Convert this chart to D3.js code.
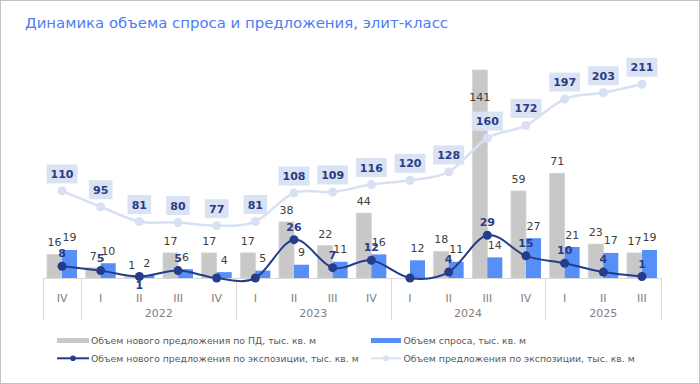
<!DOCTYPE html>
<html>
<head>
<meta charset="utf-8">
<script src="https://cdn.jsdelivr.net/npm/d3@7"></script>
<style>
  body { margin: 0; background: #fff; }
  svg { display: block; font-family: "DejaVu Sans", Verdana, sans-serif; }
</style>
</head>
<body>
<svg></svg>
<script>
const W = 700;
const H = 384;

// categories
const quarters = ["IV", "I", "II", "III", "IV", "I", "II", "III", "IV", "I", "II", "III", "IV", "I", "II", "III"];
const years = ["", "2022", "2022", "2022", "2022", "2023", "2023", "2023", "2023", "2024", "2024", "2024", "2024", "2025", "2025", "2025"];

// series
const supplyPD = [16, 7, 1, 17, 17, 17, 38, 22, 44, null, 18, 141, 59, 71, 23, 17];
const demand = [19, 10, 2, 6, 4, 5, 9, 11, 16, 12, 11, 14, 27, 21, 17, 19];
const newExposure = [8, 5, 1, 5, 0, 0, 26, 7, 12, 0, 4, 29, 15, 10, 4, 1];
const supplyExposure = [110, 95, 81, 80, 77, 81, 108, 109, 116, 120, 128, 160, 172, 197, 203, 211];

const names = [
  "Объем нового предложения по ПД, тыс. кв. м",
  "Объем спроса, тыс. кв. м",
  "Объем нового предложения по экспозиции, тыс. кв. м",
  "Объем предложения по экспозиции, тыс. кв. м",
];

const cGray = "#c8c8c8";
const cBlue = "#578ff8";
const cDark = "#243c8a";
const cLight = "#d8e1f3";
const cText = "#404040";
const cAxis = "#808080";

const svg = d3.select("svg").attr("width", W).attr("height", H);

svg.append("rect")
  .attr("x", 0.5).attr("y", 0.5)
  .attr("width", W - 1).attr("height", H - 1)
  .attr("fill", "#fff").attr("stroke", "#c4c4c4");

// title
svg.append("text")
  .attr("x", 25).attr("y", 28)
  .attr("font-size", 14.9)
  .attr("fill", "#4d7cf4")
  .text("Динамика объема спроса и предложения, элит-класс");

// scales
const base = 278;
const x = d3.scaleBand().domain(d3.range(quarters.length)).range([42.7, 661.3]).padding(0);
const cx = (i) => x(i) + x.bandwidth() / 2;
const y = d3.scaleLinear().domain([0, 141]).range([base, 70]);
const y2 = d3.scaleLinear().domain([0, 211]).range([307, 84.3]);
const barW = 15;

// bars
svg.append("g").selectAll("rect")
  .data(supplyPD.map((v, i) => ({ v, i })).filter((d) => d.v != null))
  .enter().append("rect")
  .attr("x", (d) => cx(d.i) - barW)
  .attr("y", (d) => y(d.v))
  .attr("width", barW)
  .attr("height", (d) => base - y(d.v))
  .attr("fill", cGray)
  .attr("stroke", "#d4d4d4").attr("stroke-width", 0.8);

svg.append("g").selectAll("rect")
  .data(demand.map((v, i) => ({ v, i })))
  .enter().append("rect")
  .attr("x", (d) => cx(d.i))
  .attr("y", (d) => y(d.v))
  .attr("width", barW)
  .attr("height", (d) => base - y(d.v))
  .attr("fill", cBlue);

// category axis (two levels)
const axis = svg.append("g").attr("stroke", "#d9d9d9").attr("stroke-width", 1);
axis.append("line")
  .attr("x1", x.range()[0]).attr("x2", x.range()[1])
  .attr("y1", base + 0.5).attr("y2", base + 0.5);

const groups = [];
years.forEach((yr, i) => {
  if (!groups.length || groups[groups.length - 1].yr !== yr) groups.push({ yr, from: i, to: i });
  else groups[groups.length - 1].to = i;
});
const seps = [x.range()[0]].concat(groups.map((g) => x(g.to) + x.bandwidth()));
axis.selectAll(".sep")
  .data(seps)
  .enter().append("line")
  .attr("x1", (d) => Math.round(d) + 0.5).attr("x2", (d) => Math.round(d) + 0.5)
  .attr("y1", base).attr("y2", 320);

svg.append("g").selectAll("text")
  .data(quarters)
  .enter().append("text")
  .attr("x", (d, i) => cx(i))
  .attr("y", 302)
  .attr("text-anchor", "middle")
  .attr("font-size", 11)
  .attr("fill", cAxis)
  .text((d) => d);

svg.append("g").selectAll("text")
  .data(groups.filter((g) => g.yr))
  .enter().append("text")
  .attr("x", (g) => (x(g.from) + x(g.to) + x.bandwidth()) / 2)
  .attr("y", 317)
  .attr("text-anchor", "middle")
  .attr("font-size", 11)
  .attr("fill", cAxis)
  .text((g) => g.yr);

// lines
const lightLine = d3.line()
  .x((d, i) => cx(i))
  .y((d) => y2(d))
  .curve(d3.curveCardinal.tension(0));
svg.append("path")
  .attr("d", lightLine(supplyExposure))
  .attr("fill", "none")
  .attr("stroke", cLight)
  .attr("stroke-width", 2.5);
svg.append("g").selectAll("circle")
  .data(supplyExposure)
  .enter().append("circle")
  .attr("cx", (d, i) => cx(i))
  .attr("cy", (d) => y2(d))
  .attr("r", 4.5)
  .attr("fill", cLight);

const darkLine = d3.line()
  .x((d, i) => cx(i))
  .y((d) => y(d))
  .curve(d3.curveCardinal.tension(0));
svg.append("path")
  .attr("d", darkLine(newExposure))
  .attr("fill", "none")
  .attr("stroke", cDark)
  .attr("stroke-width", 2);
svg.append("g").selectAll("circle")
  .data(newExposure)
  .enter().append("circle")
  .attr("cx", (d, i) => cx(i))
  .attr("cy", (d) => y(d))
  .attr("r", 4.5)
  .attr("fill", cDark);

// bar labels
const maxPD = d3.max(supplyPD);
svg.append("g").selectAll("text")
  .data(supplyPD.map((v, i) => ({ v, i })).filter((d) => d.v != null))
  .enter().append("text")
  .attr("x", (d) => cx(d.i) - barW / 2)
  .attr("y", (d) => (d.v === maxPD ? y(d.v) + 31 : y(d.v) - 8))
  .attr("text-anchor", "middle")
  .attr("font-size", 11)
  .attr("fill", cText)
  .text((d) => d.v);

svg.append("g").selectAll("text")
  .data(demand.map((v, i) => ({ v, i })))
  .enter().append("text")
  .attr("x", (d) => cx(d.i) + barW / 2)
  .attr("y", (d) => y(d.v) - 8.5)
  .attr("text-anchor", "middle")
  .attr("font-size", 11)
  .attr("fill", cText)
  .text((d) => d.v);

// boxed labels of the exposure supply line
const boxes = svg.append("g").selectAll("g")
  .data(supplyExposure)
  .enter().append("g")
  .attr("transform", (d, i) => `translate(${cx(i)},${y2(d) - 17})`);
boxes.append("rect")
  .attr("x", (d) => -(String(d).length * 7.3 + 9) / 2)
  .attr("y", -9.5)
  .attr("width", (d) => String(d).length * 7.3 + 9)
  .attr("height", 19)
  .attr("fill", "#dae3f3");
boxes.append("text")
  .attr("y", 4)
  .attr("text-anchor", "middle")
  .attr("font-size", 11)
  .attr("font-weight", "bold")
  .attr("fill", "#2b3c85")
  .text((d) => d);

// labels of the new exposure line
const below = [2];
svg.append("g").selectAll("text")
  .data(newExposure.map((v, i) => ({ v, i })).filter((d) => d.v > 0))
  .enter().append("text")
  .attr("x", (d) => cx(d.i))
  .attr("y", (d) => (below.includes(d.i) ? y(d.v) + 12 : y(d.v) - 9))
  .attr("text-anchor", "middle")
  .attr("font-size", 11)
  .attr("font-weight", "bold")
  .attr("fill", "#2b3c85")
  .text((d) => d.v);

// legend
const legend = svg.append("g").attr("font-size", 9.3).attr("fill", "#595959");
const lx = [57, 371];
const ly = [340.5, 358.3];

legend.append("rect").attr("x", lx[0]).attr("y", ly[0] - 2.5).attr("width", 32).attr("height", 5).attr("fill", cGray);
legend.append("rect").attr("x", lx[1]).attr("y", ly[0] - 2.5).attr("width", 30).attr("height", 5).attr("fill", cBlue);
legend.append("line").attr("x1", lx[0]).attr("x2", lx[0] + 32).attr("y1", ly[1]).attr("y2", ly[1])
  .attr("stroke", cDark).attr("stroke-width", 2);
legend.append("circle").attr("cx", lx[0] + 16).attr("cy", ly[1]).attr("r", 2.8).attr("fill", cDark);
legend.append("line").attr("x1", lx[1]).attr("x2", lx[1] + 30).attr("y1", ly[1]).attr("y2", ly[1])
  .attr("stroke", cLight).attr("stroke-width", 2);
legend.append("circle").attr("cx", lx[1] + 15).attr("cy", ly[1]).attr("r", 3).attr("fill", cLight);

const legendPos = [[lx[0] + 34, ly[0]], [lx[1] + 32.5, ly[0]], [lx[0] + 34, ly[1]], [lx[1] + 32.5, ly[1]]];
legend.selectAll("text")
  .data(names)
  .enter().append("text")
  .attr("x", (d, i) => legendPos[i][0])
  .attr("y", (d, i) => legendPos[i][1] + 3.5)
  .text((d) => d);
</script>
</body>
</html>
